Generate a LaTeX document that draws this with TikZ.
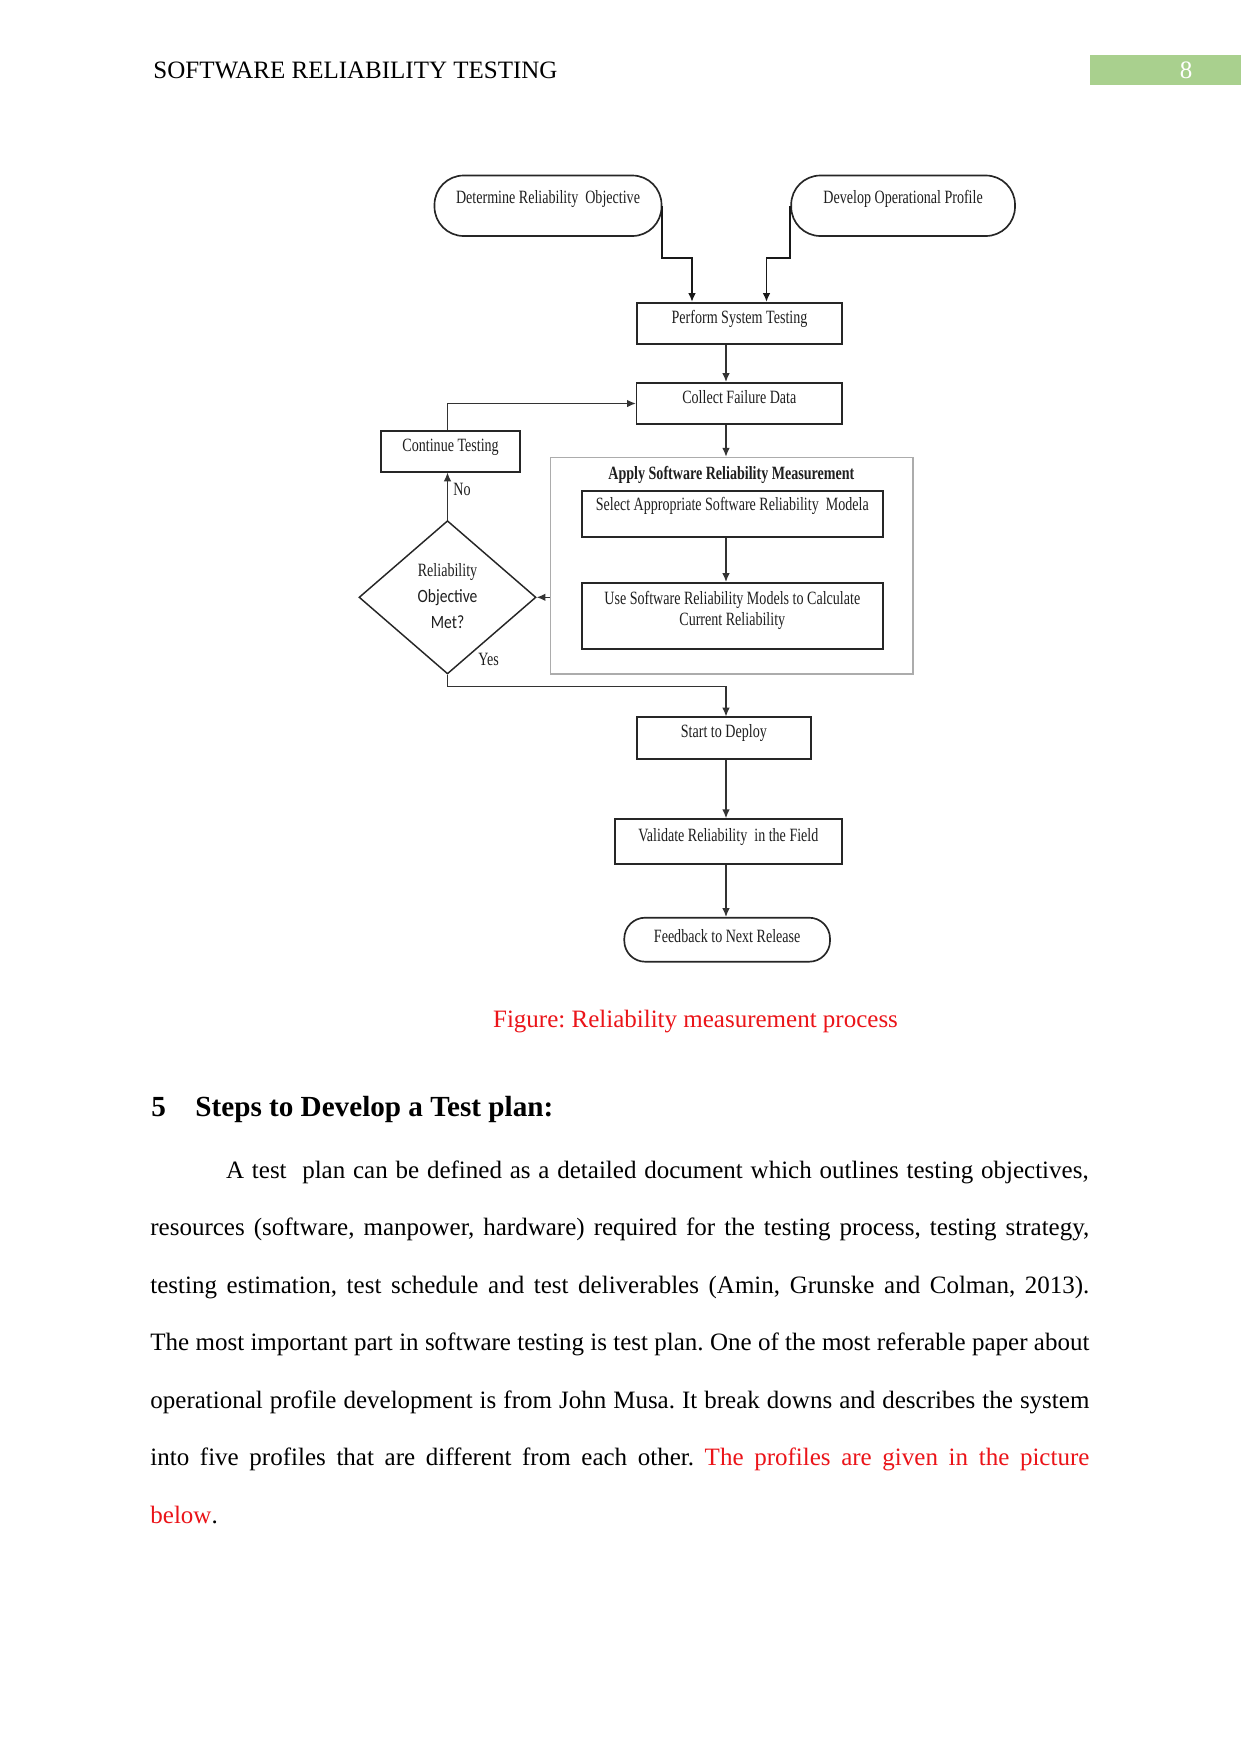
\documentclass[tikz,border=0pt]{standalone}
\usepackage{fontspec}
\setmainfont{Liberation Serif}
\newfontfamily\dgfont[FakeStretch=0.75]{Liberation Serif}
\newfontfamily\dgsans[FakeStretch=0.83]{Carlito}
\usetikzlibrary{arrows.meta,shapes.geometric,calc}
\definecolor{hdrgreen}{RGB}{169,208,142}
\definecolor{txtred}{RGB}{235,20,25}
\newcommand{\pxu}{*0.48pt}
\frenchspacing
\begin{document}
\begin{tikzpicture}[x=0.48pt,y=-0.48pt,
  dtext/.style={font=\dgfont\fontsize{9}{10.8}\selectfont, text=black!88},
  boxnode/.style={dtext, draw=black!85, line width=0.8pt, inner sep=1pt, text height=6.5pt},
  pill/.style={boxnode, rounded corners=14pt},
  conn/.style={draw=black!80, line width=0.55pt},
  arr/.style={conn, -{Latex[length=4.2pt,width=3.6pt]}},
  heavyarr/.style={arr, draw=black!90, line width=0.9pt},
  body/.style={font=\fontsize{12}{14}\selectfont, inner sep=0pt, anchor=base west},
  headfont/.style={font=\bfseries\fontsize{14}{16}\selectfont},
]
\fill[white] (0,0) rectangle (1241,1754);
\useasboundingbox (0,0) rectangle (1241,1754);

% header
\node[body] (hdr) at (153,78) {SOFTWARE RELIABILITY TESTING};
\node[fill=hdrgreen, inner sep=0pt, minimum width=151\pxu, minimum height=30\pxu, text=white, font=\fontsize{12}{14}\selectfont] (pgno) at (1165.5,70) {\hspace*{19.7pt}8};

% diagram
\node[pill, minimum width=227\pxu, minimum height=60.5\pxu, text depth=8.65pt] (det) at (548,205.75) {Determine Reliability\ \ Objective};
\node[pill, minimum width=223.8\pxu, minimum height=60.5\pxu, text depth=8.65pt] (dev) at (903.1,205.75) {Develop Operational Profile};
\node[boxnode, minimum width=204.5\pxu, minimum height=41\pxu, text depth=6.3pt] (perf) at (739.5,323.3) {Perform System Testing};
\node[boxnode, minimum width=205.4\pxu, minimum height=41.6\pxu, text depth=6.5pt] (coll) at (739.3,403.5) {Collect Failure Data};
\node[boxnode, minimum width=138.6\pxu, minimum height=40.7\pxu, text depth=6pt] (cont) at (450.6,451.35) {Continue Testing};
\node[draw=gray!65, line width=0.6pt, inner sep=0pt, minimum width=362.4\pxu, minimum height=216.7\pxu] (apply) at (731.7,565.65) {};
\node[dtext, font=\dgfont\bfseries\fontsize{9}{10.8}\selectfont] (applyttl) at (731.4,475) {Apply Software Reliability Measurement};
\node[boxnode, minimum width=300.8\pxu, minimum height=46.6\pxu, text depth=10.14pt] (sel) at (732.3,514) {Select Appropriate Software Reliability\ \ Modela};
\node[boxnode, minimum width=300.8\pxu, minimum height=66\pxu, text height=12pt, text depth=12.3pt] (use) at (732.3,615.7) {\fontsize{9}{9.9}\selectfont\begin{tabular}{@{}c@{}}Use Software Reliability Models to Calculate\\Current Reliability\end{tabular}};
\node[dtext, diamond, draw=black!85, line width=0.7pt, inner sep=0pt, minimum width=177\pxu, minimum height=153.3\pxu] (dia) at (447.5,597.3) {\fontsize{9}{12.6}\selectfont\begin{tabular}{@{}c@{}}Reliability\\{\dgsans Objective}\\{\dgsans Met?}\end{tabular}};
\node[boxnode, minimum width=174.3\pxu, minimum height=41.4\pxu, text depth=6.6pt] (start) at (723.85,738) {Start to Deploy};
\node[boxnode, minimum width=227.3\pxu, minimum height=44.7\pxu, text depth=6pt] (val) at (728.35,841.35) {Validate Reliability\ \ in the Field};
\node[boxnode, rounded corners=10pt, minimum width=205.7\pxu, minimum height=44\pxu, text depth=3.8pt] (fb) at (727.15,939.7) {Feedback to Next Release};

\node[dtext, anchor=west, inner sep=0pt] (nolbl) at (453,489) {No};
\node[dtext, anchor=west, inner sep=0pt] (yeslbl) at (478,659) {Yes};

% connectors
\coordinate (spine) at (726,0);
\coordinate (j1) at (692,257.7);
\coordinate (j2) at (766.5,257.7);
\coordinate (j3) at (726,686.5);
\draw[heavyarr] (det.east) |- (j1) -- (j1 |- perf.north);
\draw[heavyarr] (dev.west) |- (j2) -- (j2 |- perf.north);
\draw[arr] (perf.south -| spine) -- (coll.north -| spine);
\draw[arr] (coll.south -| spine) -- (apply.north -| spine);
\draw[arr] (sel.south -| spine) -- (use.north -| spine);
\draw[arr] (apply.west |- dia.east) -- (dia.east);
\draw[arr] (dia.north) -- (cont.south -| dia.north);
\draw[arr] (cont.north -| dia.north) |- (coll.west);
\draw[arr] (dia.south) |- (j3) -- (start.north -| spine);
\draw[arr] (start.south -| spine) -- (val.north -| spine);
\draw[arr] (val.south -| spine) -- (fb.north -| spine);

% caption and text
\node[body, anchor=base, text=txtred] (cap) at (695.5,1027) {Figure: Reliability measurement process};
\node[body, headfont] (secnum) at (151,1116) {5};
\node[body, headfont] (sectitle) at (195,1116) {Steps to Develop a Test plan:};
\node[body] (p1) at (225.7,1178) {\makebox[414pt][s]{A test\ \ plan can be defined as a detailed document which outlines testing objectives,}};
\node[body] (p2) at (150,1235.5) {\makebox[450.7pt][s]{resources (software, manpower, hardware) required for the testing process, testing strategy,}};
\node[body] (p3) at (150,1293) {\makebox[450.7pt][s]{testing estimation, test schedule and test deliverables (Amin, Grunske and Colman, 2013).}};
\node[body] (p4) at (150,1350.5) {\makebox[450.7pt][s]{The most important part in software testing is test plan. One of the most referable paper about}};
\node[body] (p5) at (150,1408) {\makebox[450.7pt][s]{operational profile development is from John Musa. It break downs and describes the system}};
\node[body] (p6) at (150,1465.5) {\makebox[450.7pt][s]{into five profiles that are different from each other. \textcolor{txtred}{The profiles are given in the picture}}};
\node[body] (p7) at (150,1523) {\textcolor{txtred}{below}.};
\end{tikzpicture}
\end{document}
